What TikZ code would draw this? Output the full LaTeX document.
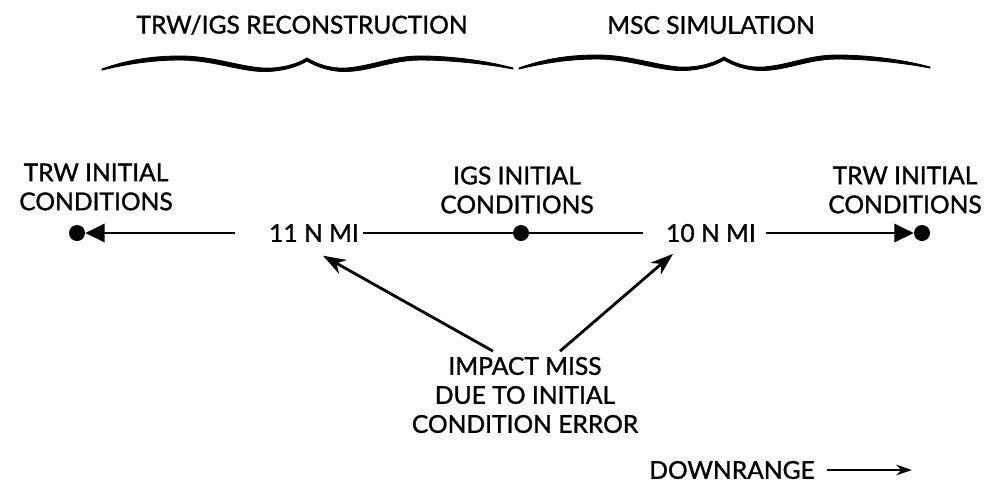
\documentclass[tikz,border=0pt]{standalone}
\usepackage{fontspec}
\setmainfont{Lato}[FakeBold=1.2]
\usepackage{tikz}
\usetikzlibrary{arrows.meta,positioning,calc}
\tikzstyle{lbl} = [font=\fontsize{14}{16.5}\selectfont, align=center, inner sep=2pt]
\tikzstyle{dot} = [circle, fill=black, inner sep=0pt, minimum size=0.32cm]
\tikzstyle{rowline} = [line width=1.2pt]
\tikzstyle{endtip} = [rowline, -{Triangle[length=11pt,width=10.5pt]}]
\tikzstyle{ptr} = [line width=1.6pt, -{Stealth[length=13pt,width=9pt]}]
\tikzset{wavybrace/.pic={
	\filldraw[line width=0.5pt] (0,0) .. controls (25,-9) and (50,-13) .. (78,-13)
		.. controls (110,-13) and (135,-3) .. (160,-1) .. controls (180,0) and (195,-5) .. (205,-11)
		.. controls (215,-5) and (228,0) .. (245,-1) .. controls (270,-3) and (290,-13) .. (318,-13)
		.. controls (350,-13) and (385,-8) .. (411,-1)
		-- (411,0) .. controls (385,-5) and (350,-9) .. (318,-9)
		.. controls (290,-9) and (270,1.5) .. (245,2.5) .. controls (228,3) and (213,-3) .. (205,-8)
		.. controls (197,-3) and (180,3) .. (160,2.5) .. controls (135,1.5) and (110,-9) .. (78,-9)
		.. controls (50,-9) and (25,-5) .. (0,1) -- cycle;
}}

\begin{document}
\begin{tikzpicture}[x=0.02cm, y=-0.02cm]
	\useasboundingbox (0,0) rectangle (990,488);

	\node[lbl] (recon) at (302,25) {TRW/IGS RECONSTRUCTION};
	\node[lbl] (msc) at (711,25) {MSC SIMULATION};
	\pic at (102,69) {wavybrace};
	\pic at (519,68) {wavybrace};

	\node[lbl] (trwL) at (96,187) {TRW INITIAL\\CONDITIONS};
	\node[lbl] (igs) at (517,190) {IGS INITIAL\\CONDITIONS};
	\node[lbl] (trwR) at (905,190) {TRW INITIAL\\CONDITIONS};

	\node[lbl] (mi11) at (314,233) {11 N MI};
	\node[lbl] (mi10) at (711,233) {10 N MI};
	\node[dot] (dL) at (77,233) {};
	\node[dot] (dM) at (521,233) {};
	\node[dot] (dR) at (922,233) {};

	\draw[endtip, shorten <=17pt] (mi11.west) -- (dL.east);
	\draw[rowline, shorten >=11pt] (mi11.east) -- (dM) -- (mi10.west);
	\draw[endtip, shorten <=3.7pt] (mi10.east) -- (dR.west);

	\node[lbl] (miss) at (525,395) {IMPACT MISS\\DUE TO INITIAL\\CONDITION ERROR};
	\draw[ptr] ($(miss.north)+(-32,-2)$) -- ($(mi11.south)+(9,10)$);
	\draw[ptr] ($(miss.north)+(35,-2)$) -- ($(mi10.south)+(-38,8)$);

	\node[lbl] (down) at (732,470) {DOWNRANGE};
	\coordinate (dnend) at (912,470);
	\draw[line width=1.1pt, -{Stealth[length=9pt,width=6pt]}, shorten <=4.8pt] (down.east) -- (dnend);
\end{tikzpicture}
\end{document}
